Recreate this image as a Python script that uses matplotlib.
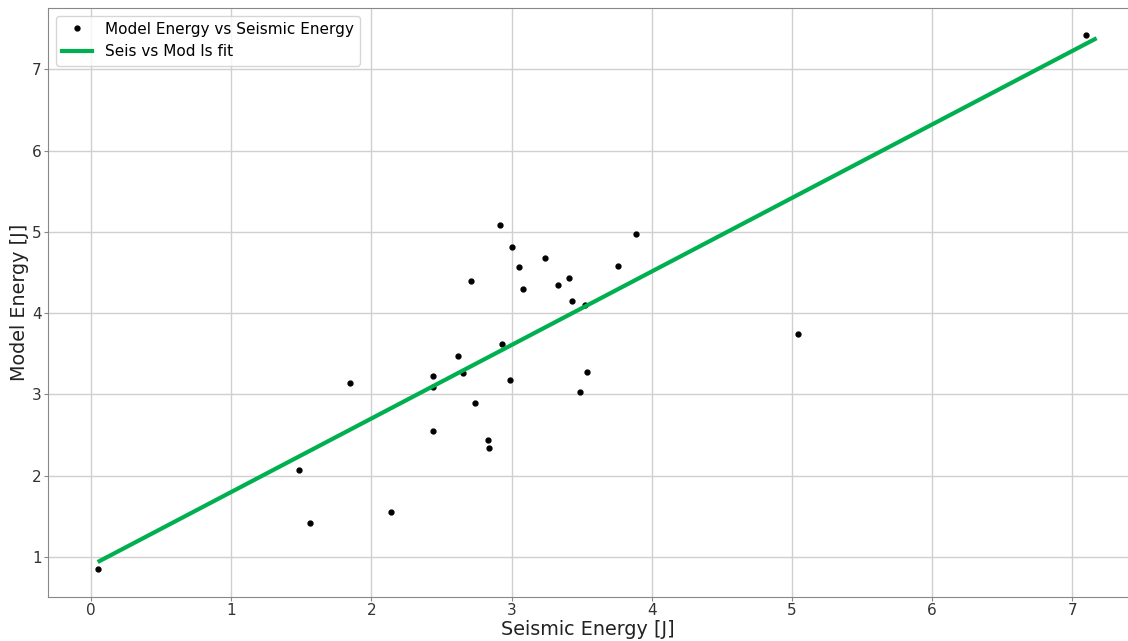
import matplotlib.pyplot as plt
import numpy as np

# Seismic energy (x) and model energy (y)
seismic_energy = [0.05, 1.48, 1.56, 1.85, 2.14, 2.44, 2.44, 2.44, 2.62, 2.65,
                  2.71, 2.74, 2.83, 2.84, 2.92, 2.93, 2.99, 3.00, 3.05, 3.08,
                  3.24, 3.33, 3.41, 3.43, 3.49, 3.52, 3.54, 3.76, 3.89, 5.04,
                  7.10]
model_energy = [0.85, 2.07, 1.42, 3.14, 1.55, 3.23, 3.09, 2.55, 3.47, 3.26,
                4.40, 2.89, 2.44, 2.34, 5.08, 3.62, 3.18, 4.81, 4.57, 4.30,
                4.68, 4.34, 4.43, 4.15, 3.03, 4.10, 3.27, 4.58, 4.97, 3.74,
                7.42]

# least squares fit line end points
fit_x = [0.06, 7.16]
fit_y = [0.95, 7.37]

fig = plt.figure(figsize=(11.28, 6.41), dpi=100)
ax = fig.add_axes([0.0426, 0.0686, 0.9574, 0.9189])

ax.plot(seismic_energy, model_energy, 'k.', markersize=7,
        label="Model Energy vs Seismic Energy")
ax.plot(fit_x, fit_y, color='#00b050', linewidth=3, label="Seis vs Mod ls fit")

ax.set_xlim(-0.307, 7.397)
ax.set_ylim(0.508, 7.753)
ax.set_xticks(range(0, 8))
ax.set_yticks(range(1, 8))
ax.grid(True, color='#d0d0d0', linewidth=1)
ax.set_axisbelow(True)

for side in ['left', 'bottom', 'top']:
    ax.spines[side].set_color('#888888')
ax.spines['right'].set_visible(False)
ax.tick_params(labelsize=11, colors='#333333', color='#888888',
               length=3, pad=1.5)

ax.set_xlabel("Seismic Energy [J]", fontsize=13.8, color='#222222', labelpad=1)
ax.set_ylabel("Model Energy [J]", fontsize=13.8, color='#222222', labelpad=2)

ax.legend(loc='upper left', fontsize=11)

fig.savefig("out.png", dpi=100)
